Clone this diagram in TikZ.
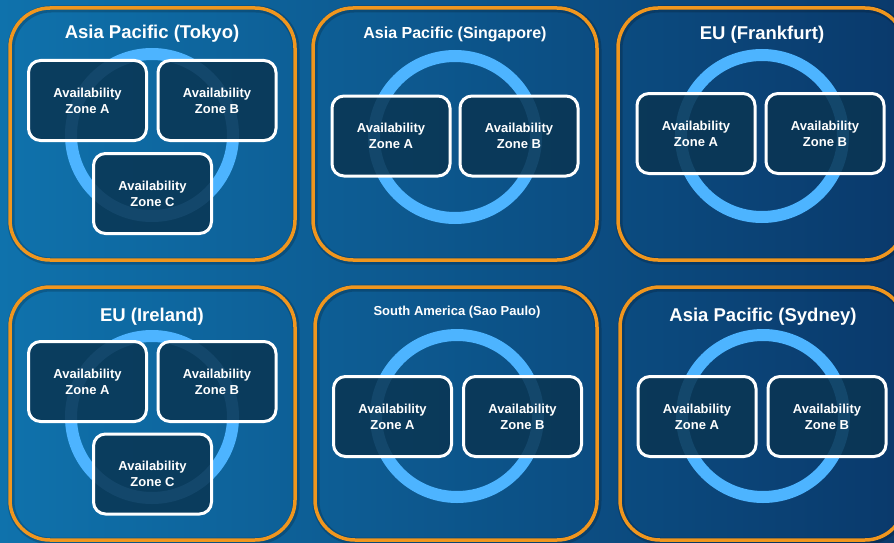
\documentclass[tikz,border=0pt]{standalone}
\usepackage{fontspec}
\setmainfont{Liberation Sans}
\usepackage{tikz}

\definecolor{bgleft}{RGB}{15,114,172}
\definecolor{bgright}{RGB}{10,58,108}
\definecolor{ringblue}{RGB}{77,180,255}
\definecolor{regionorange}{RGB}{240,150,30}
\definecolor{zonenavy}{RGB}{10,53,82}

\tikzset{
  region/.style={draw=regionorange, line width=3.5pt, rounded corners=40pt},
  regionshade/.style={draw=black, draw opacity=0.18, line width=7pt, rounded corners=40pt},
  ring/.style={draw=ringblue, line width=12pt},
  zone/.style={draw=white, line width=3pt, rounded corners=12pt, fill=zonenavy,
    fill opacity=0.85, text opacity=1, text=white, align=center,
    minimum width=118pt, minimum height=80pt,
    font=\bfseries\fontsize{13}{16}\selectfont},
  title/.style={text=white, font=\bfseries\fontsize{18.5}{21}\selectfont}
}

\begin{document}
\begin{tikzpicture}[x=1pt,y=-1pt]
                \useasboundingbox (0,0) rectangle (894,543);
                \clip (0,0) rectangle (894,543);
                \shade[left color=bgleft, right color=bgright] (0,0) rectangle (894,543);

                % top row
                \draw[regionshade] (11,9) rectangle (296,261);
                \draw[region] (10,8) rectangle (295,260);
                \node[title] (tokyo) at (152,34) {Asia Pacific (Tokyo)};
                \draw[ring] (152,135) circle[radius=81pt];
                \node[zone] (tokyoA) at (87.5,100.5) {Availability\\Zone A};
                \node[zone] (tokyoB) at (217,100.5) {Availability\\Zone B};
                \node[zone] (tokyoC) at (152.5,193.5) {Availability\\Zone C};

                \draw[regionshade] (314,9) rectangle (598,261);
                \draw[region] (313,8) rectangle (597,260);
                \node[title, font=\bfseries\fontsize{16}{19}\selectfont] (singapore) at (455,34) {Asia Pacific (Singapore)};
                \draw[ring] (455,137) circle[radius=81pt];
                \node[zone] (singaporeA) at (391,136) {Availability\\Zone A};
                \node[zone] (singaporeB) at (519,136) {Availability\\Zone B};

                \draw[regionshade] (619,9) rectangle (906,261);
                \draw[region] (618,8) rectangle (905,260);
                \node[title] (frankfurt) at (762,35) {EU (Frankfurt)};
                \draw[ring] (762,136) circle[radius=81pt];
                \node[zone] (frankfurtA) at (696,133.5) {Availability\\Zone A};
                \node[zone] (frankfurtB) at (825,133.5) {Availability\\Zone B};

                % bottom row
                \draw[regionshade] (11,288) rectangle (296,541);
                \draw[region] (10,287) rectangle (295,540);
                \node[title] (ireland) at (152,317) {EU (Ireland)};
                \draw[ring] (152,417) circle[radius=81pt];
                \node[zone] (irelandA) at (87.5,381.5) {Availability\\Zone A};
                \node[zone] (irelandB) at (217,381.5) {Availability\\Zone B};
                \node[zone] (irelandC) at (152.5,474) {Availability\\Zone C};

                \draw[regionshade] (316,288) rectangle (598,541);
                \draw[region] (315,287) rectangle (597,540);
                \node[title, font=\bfseries\fontsize{13}{16}\selectfont] (saopaulo) at (457,312) {South America (Sao Paulo)};
                \draw[ring] (457,416) circle[radius=81pt];
                \node[zone] (saopauloA) at (392.5,416.5) {Availability\\Zone A};
                \node[zone] (saopauloB) at (522.5,416.5) {Availability\\Zone B};

                \draw[regionshade] (621,288) rectangle (906,541);
                \draw[region] (620,287) rectangle (905,540);
                \node[title] (sydney) at (763,317) {Asia Pacific (Sydney)};
                \draw[ring] (763,416) circle[radius=81pt];
                \node[zone] (sydneyA) at (697,416.5) {Availability\\Zone A};
                \node[zone] (sydneyB) at (827,416.5) {Availability\\Zone B};
\end{tikzpicture}
\end{document}
